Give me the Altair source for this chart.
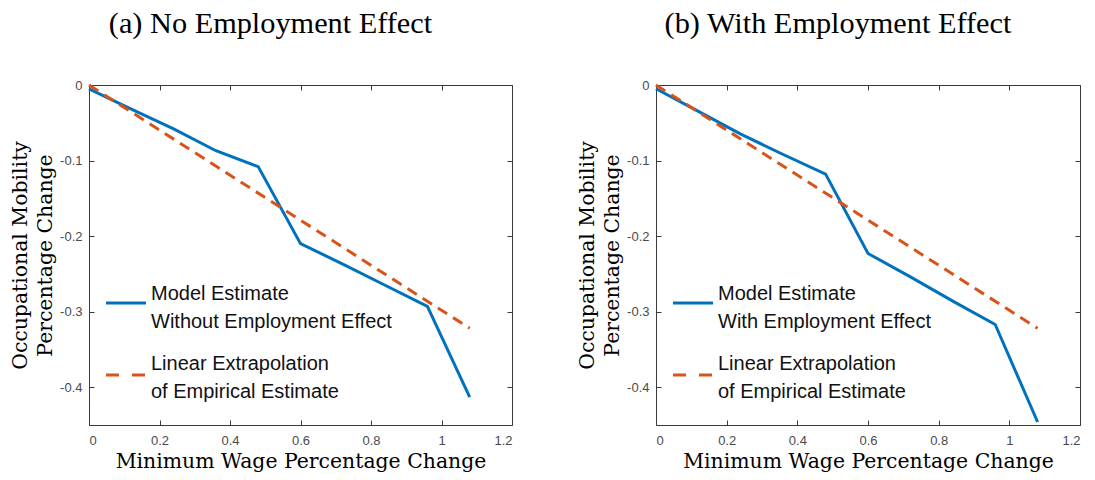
import altair as alt
import pandas as pd

# ---------------- data ----------------
x_model = [0, 0.12, 0.24, 0.36, 0.48, 0.6, 0.72, 0.84, 0.96, 1.08]
model_a = [-0.005, -0.032, -0.058, -0.087, -0.108, -0.210, -0.237, -0.265, -0.293, -0.413]
model_b = [-0.005, -0.035, -0.065, -0.092, -0.118, -0.223, -0.254, -0.286, -0.317, -0.446]
x_linear = [0, 1.08]
linear_a = [0, -0.322]
linear_b = [0, -0.322]

x_ticks = [0, 0.2, 0.4, 0.6, 0.8, 1.0, 1.2]
y_ticks = [0, -0.1, -0.2, -0.3, -0.4]
x_domain = [0, 1.2]
y_domain = [-0.45, 0]

panel_titles = ["(a) No Employment Effect", "(b) With Employment Effect"]
legend_model = [["Model Estimate", "Without Employment Effect"],
                ["Model Estimate", "With Employment Effect"]]
legend_linear = ["Linear Extrapolation", "of Empirical Estimate"]
x_title = "Minimum Wage Percentage Change"
y_title = ["Occupational Mobility", "Percentage Change"]

# ---------------- style ----------------
BLUE = "#0072BD"
ORANGE = "#D95319"
BOX = "#3a3a3a"
TICKLAB = "#4a4a4a"
SANS = "Liberation Sans"
SERIF = "DejaVu Serif"
H = 340


def panel(model, linear, title, leg_model, width):
    df_m = pd.DataFrame({"x": x_model, "y": model})
    df_l = pd.DataFrame({"x": x_linear, "y": linear})
    xs = alt.Scale(domain=x_domain, nice=False, zero=False)
    ys = alt.Scale(domain=y_domain, nice=False, zero=False)

    x_main = alt.Axis(values=x_ticks, labelExpr="format(datum.value, '~g')",
                      ticks=False, domain=False, grid=False,
                      labelFont=SANS, labelFontSize=13, labelColor=TICKLAB, labelPadding=9,
                      title=x_title, titleFont=SERIF, titleFontSize=20.4,
                      titleFontWeight="normal", titleColor="black", titlePadding=4)
    y_main = alt.Axis(values=y_ticks,
                      labelExpr="datum.value == 0 ? '0' : '-' + format(abs(datum.value), '.1f')",
                      ticks=False, domain=False, grid=False,
                      labelFont=SANS, labelFontSize=13, labelColor=TICKLAB, labelPadding=7,
                      title=y_title, titleFont=SERIF, titleFontSize=20.4,
                      titleFontWeight="normal", titleColor="black", titlePadding=4,
                      titleLineHeight=25)
    tick_common = dict(values=x_ticks, labels=False, domain=False, grid=False,
                       ticks=True, tickSize=5, tickColor=BOX, tickWidth=1, title=None)
    ytick_common = dict(values=y_ticks, labels=False, domain=False, grid=False,
                        ticks=True, tickSize=5, tickColor=BOX, tickWidth=1, title=None)
    x_in_bottom = alt.Axis(orient="top", offset=-H, **tick_common)
    x_in_top = alt.Axis(orient="bottom", offset=-H, **tick_common)
    y_in_left = alt.Axis(orient="right", offset=-width, **ytick_common)
    y_in_right = alt.Axis(orient="left", offset=-width, **ytick_common)

    blue = alt.Chart(df_m).mark_line(color=BLUE, strokeWidth=3).encode(
        x=alt.X("x:Q", scale=xs, axis=x_main),
        y=alt.Y("y:Q", scale=ys, axis=y_main))
    orange = alt.Chart(df_l).mark_line(color=ORANGE, strokeWidth=3, strokeDash=[11, 7]).encode(
        x=alt.X("x:Q", scale=xs, axis=x_in_bottom),
        y=alt.Y("y:Q", scale=ys, axis=y_in_left))
    ghost = alt.Chart(df_l).mark_line(opacity=0).encode(
        x=alt.X("x:Q", scale=xs, axis=x_in_top),
        y=alt.Y("y:Q", scale=ys, axis=y_in_right))

    leg_df_m = pd.DataFrame({"label": ["\n".join(leg_model)]})
    leg_df_l = pd.DataFrame({"label": ["\n".join(legend_linear)]})
    leg_rule_m = alt.Chart(leg_df_m).mark_rule(color=BLUE, strokeWidth=3).encode(
        x=alt.value(17), x2=alt.value(57), y=alt.value(218))
    leg_rule_l = alt.Chart(leg_df_l).mark_rule(color=ORANGE, strokeWidth=3,
                                               strokeDash=[13, 13]).encode(
        x=alt.value(17), x2=alt.value(57), y=alt.value(290))
    text_kw = dict(align="left", baseline="alphabetic", font=SANS, fontSize=20,
                   lineBreak="\n", lineHeight=28, color="#111111")
    leg_text_m = alt.Chart(leg_df_m).mark_text(**text_kw).encode(
        x=alt.value(62), y=alt.value(215), text="label:N")
    leg_text_l = alt.Chart(leg_df_l).mark_text(**text_kw).encode(
        x=alt.value(62), y=alt.value(285), text="label:N")

    return alt.layer(blue, orange, ghost, leg_rule_m, leg_rule_l, leg_text_m, leg_text_l).resolve_axis(
        x="independent", y="independent"
    ).properties(
        width=width, height=H,
        title=alt.TitleParams(title, font="Liberation Serif", fontSize=30.3, fontWeight="normal",
                              color="black", anchor="middle", dx=-30, offset=40))


pa = panel(model_a, linear_a, panel_titles[0], legend_model[0], 423)
pb = panel(model_b, linear_b, panel_titles[1], legend_model[1], 424)

chart = alt.hconcat(pa, pb, spacing=64).configure_view(
    stroke=BOX, strokeWidth=1
).properties(padding={"left": 2, "top": 0, "right": 0, "bottom": 0})

chart.save("out.html", embed_options={"renderer": "svg", "actions": False})
